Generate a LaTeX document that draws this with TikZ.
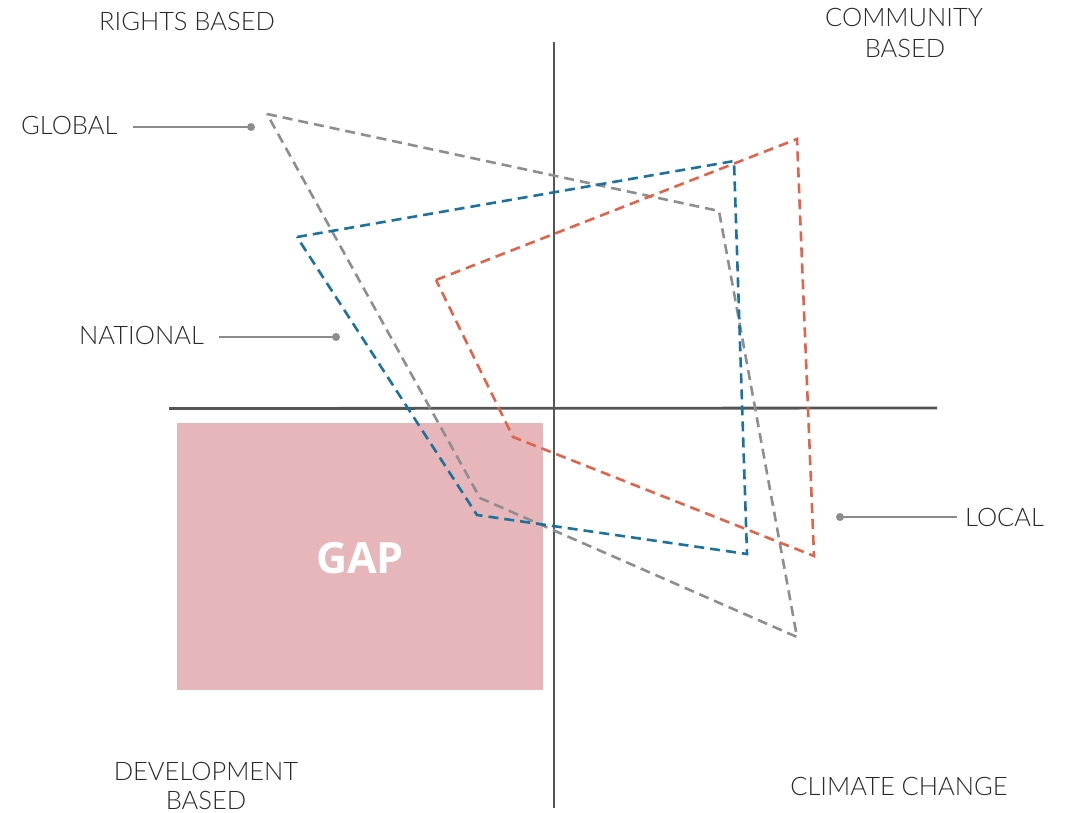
\documentclass[tikz,border=0pt]{standalone}
\usepackage{fontspec}
\IfFontExistsTF{Lato Light}{\setmainfont{Lato Light}}{\setmainfont{Lato}}
\newfontfamily\gapfont{Open Sans}[UprightFont=* Bold]
\definecolor{axisgray}{HTML}{555555}
\definecolor{lblgray}{HTML}{2A2A2A}
\definecolor{leadgray}{HTML}{8C8C8E}
\definecolor{polygray}{HTML}{8E8E90}
\definecolor{polyblue}{HTML}{1A739F}
\definecolor{polyred}{HTML}{E0644A}
\definecolor{gapfill}{HTML}{E6B6BA}
\begin{document}
\begin{tikzpicture}[x=1pt,y=-1pt,
  lbl/.style={inner sep=0pt, text=lblgray, font=\fontsize{25.5}{25.5}\selectfont},
  axisline/.style={draw=axisgray, line width=2.8pt},
  leader/.style={draw=leadgray, line width=1.7pt},
  leaddot/.style={circle, fill=leadgray, inner sep=0pt, minimum size=8pt},
  poly/.style={line width=2.6pt, dash pattern=on 10pt off 6pt, line join=miter},
  gapbox/.style={fill=gapfill, draw=none}]
\useasboundingbox (0,0) rectangle (1078,812);
% GAP region
\node[gapbox, minimum width=366pt, minimum height=267pt, inner sep=0pt, anchor=north west] (gap) at (177,423) {};
\node[inner sep=0pt, anchor=base, text=white, font=\gapfont\fontsize{43}{43}\selectfont] (gaptext) at (360,573) {GAP};
% axes
\coordinate (vtop) at (554,42);
\coordinate (vbot) at (554,808);
\coordinate (hleft) at (169,408.5);
\coordinate (hright) at (937,408);
\draw[axisline] (vtop) -- (vbot);
\draw[axisline] (hleft) -- (hright);
% polygons
\coordinate (g1) at (267,114);
\coordinate (g2) at (719,211);
\coordinate (g3) at (797,637);
\coordinate (g4) at (480,498);
\coordinate (b1) at (297,237);
\coordinate (b2) at (734,161);
\coordinate (b3) at (747,554);
\coordinate (b4) at (477,515);
\coordinate (r1) at (436,280);
\coordinate (r2) at (797,139);
\coordinate (r3) at (814,556);
\coordinate (r4) at (513,437);
\draw[poly, polygray] (g1) -- (g2) -- (g3) -- (g4) -- cycle;
\draw[poly, polyblue] (b1) -- (b2) -- (b3) -- (b4) -- cycle;
\draw[poly, polyred] (r1) -- (r2) -- (r3) -- (r4) -- cycle;
% quadrant labels
\node[lbl, anchor=base] (rights) at (187,30) {RIGHTS BASED};
\node[lbl, anchor=base] (comm1) at (904,26) {COMMUNITY};
\node[lbl, anchor=base] (comm2) at (905,57) {BASED};
\node[lbl, anchor=base] (dev1) at (206,780) {DEVELOPMENT};
\node[lbl, anchor=base] (dev2) at (206,809) {BASED};
\node[lbl, anchor=base] (climate) at (899,795) {CLIMATE CHANGE};
% scale labels with leaders
\node[lbl, anchor=base west] (global) at (21,134) {GLOBAL};
\node[leaddot] (gdot) at (251,127) {};
\coordinate (gstart) at (133,127);
\draw[leader] (gstart) -- (gdot.center);
\node[lbl, anchor=base west] (national) at (79,344) {NATIONAL};
\node[leaddot] (ndot) at (336,337) {};
\coordinate (nstart) at (219,337);
\draw[leader] (nstart) -- (ndot.center);
\node[lbl, anchor=base west] (local) at (965,526) {LOCAL};
\node[leaddot] (ldot) at (840,517) {};
\coordinate (lend) at (957,517);
\draw[leader] (ldot.center) -- (lend);
\end{tikzpicture}
\end{document}
